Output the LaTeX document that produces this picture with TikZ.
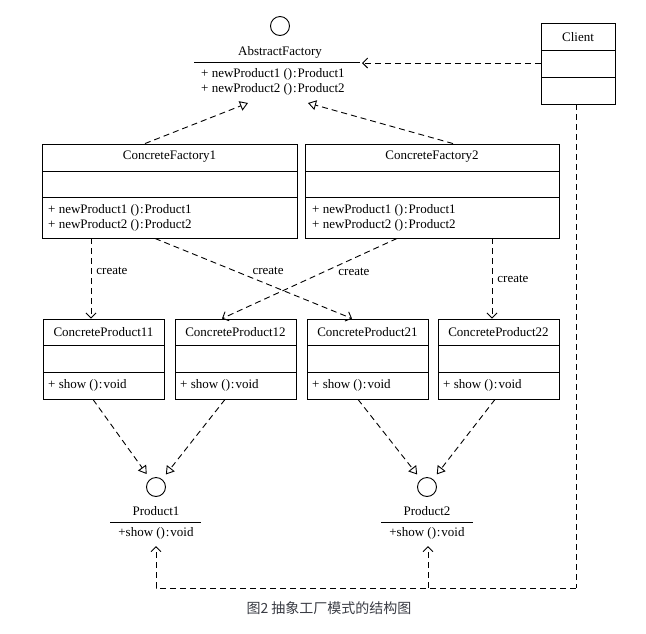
\documentclass[tikz,border=0pt]{standalone}
\usepackage{fontspec}
\setmainfont{Liberation Serif}
\newfontfamily\cjk{Noto Sans CJK SC}
\usetikzlibrary{arrows.meta}
\definecolor{capgray}{RGB}{58,60,68}
\newcommand{\ret}[1]{\kern0.8pt:\kern1pt#1}

\begin{document}
\begin{tikzpicture}[x=1pt,y=-1pt,
  every node/.style={inner sep=0pt,font=\fontsize{13}{15}\selectfont},
  cls/.style={draw,line width=0.9pt},
  iface/.style={draw,circle,minimum size=19pt,line width=0.9pt},
  dashline/.style={line width=0.9pt,dash pattern=on 6pt off 4pt},
  dep/.style={dashline,-{Straight Barb[length=5pt,width=10pt]}},
  real/.style={dashline,-{Triangle[open,length=8pt,width=10pt]}}]
  \useasboundingbox (0,0) rectangle (646,633);

  % AbstractFactory
  \node[iface] (af) at (280,26) {};
  \node (aftitle) at (280,52) {AbstractFactory};
  \draw[cls] (194,62) -- (360,62);
  \node[anchor=west] (afop1) at (201,74) {+ newProduct1 ()\ret{Product1}};
  \node[anchor=west] (afop2) at (201,89) {+ newProduct2 ()\ret{Product2}};

  % Client
  \node[cls,minimum width=74pt,minimum height=81pt] (client) at (578,63.5) {};
  \node (clienttitle) at (578,37) {Client};
  \draw[cls] (541,50) -- (615,50) (541,77) -- (615,77);

  % factories
  \node[cls,minimum width=255pt,minimum height=94pt] (cf1) at (169.5,191) {};
  \node (cf1title) at (169.5,157) {ConcreteFactory1};
  \draw[cls] (42,171) -- (297,171) (42,197) -- (297,197);
  \node[anchor=west] (cf1op1) at (48,210) {+ newProduct1 ()\ret{Product1}};
  \node[anchor=west] (cf1op2) at (48,225) {+ newProduct2 ()\ret{Product2}};

  \node[cls,minimum width=254pt,minimum height=94pt] (cf2) at (432,191) {};
  \node (cf2title) at (432,157) {ConcreteFactory2};
  \draw[cls] (305,171) -- (559,171) (305,197) -- (559,197);
  \node[anchor=west] (cf2op1) at (312,210) {+ newProduct1 ()\ret{Product1}};
  \node[anchor=west] (cf2op2) at (312,225) {+ newProduct2 ()\ret{Product2}};

  % products
  \node[cls,minimum width=121pt,minimum height=80pt] (cp11) at (103.5,359) {};
  \node (cp11title) at (103.5,332) {ConcreteProduct11};
  \draw[cls] (43,345) -- (164,345) (43,372) -- (164,372);
  \node[anchor=west] (cp11op) at (48,385) {+ show ()\ret{void}};

  \node[cls,minimum width=121pt,minimum height=80pt] (cp12) at (235.5,359) {};
  \node (cp12title) at (235.5,332) {ConcreteProduct12};
  \draw[cls] (175,345) -- (296,345) (175,372) -- (296,372);
  \node[anchor=west] (cp12op) at (180,385) {+ show ()\ret{void}};

  \node[cls,minimum width=121pt,minimum height=80pt] (cp21) at (367.5,359) {};
  \node (cp21title) at (367.5,332) {ConcreteProduct21};
  \draw[cls] (307,345) -- (428,345) (307,372) -- (428,372);
  \node[anchor=west] (cp21op) at (312,385) {+ show ()\ret{void}};

  \node[cls,minimum width=121pt,minimum height=80pt] (cp22) at (498.5,359) {};
  \node (cp22title) at (498.5,332) {ConcreteProduct22};
  \draw[cls] (438,345) -- (559,345) (438,372) -- (559,372);
  \node[anchor=west] (cp22op) at (443,385) {+ show ()\ret{void}};

  % Product1, Product2
  \node[iface] (p1) at (156,487) {};
  \node (p1title) at (156,511) {Product1};
  \draw[cls] (110,522) -- (201,522);
  \node (p1op) at (156,533) {+show ()\ret{void}};

  \node[iface] (p2) at (427,487) {};
  \node (p2title) at (427,511) {Product2};
  \draw[cls] (381,522) -- (473,522);
  \node (p2op) at (427,533) {+show ()\ret{void}};

  % connectors
  \coordinate (afin) at (362,63);
  \coordinate (afl) at (248,103);
  \coordinate (afr) at (308,103);
  \draw[dep] (client.west |- afin) -- (afin);
  \draw[real] (145,0 |- cf1.north) -- (afl);
  \draw[real] (453,0 |- cf2.north) -- (afr);

  \draw[dep] (91,0 |- cf1.south) -- node[right=5pt,pos=0.4] (create1) {create} (91,0 |- cp11.north);
  \draw[dep] (155,0 |- cf1.south) -- node[above=9pt,pos=0.574] (create2) {create} (352,0 |- cp21.north);
  \draw[dep] (397,0 |- cf2.south) -- node[below=10pt,pos=0.246] (create3) {create} (222,0 |- cp12.north);
  \draw[dep] (492,0 |- cf2.south) -- node[right=5pt,pos=0.51] (create4) {create} (492,0 |- cp22.north);

  \draw[real,shorten >=6pt] (93,0 |- cp11.south) -- (p1);
  \draw[real,shorten >=6pt] (225,0 |- cp12.south) -- (p1);
  \draw[real,shorten >=6pt] (358,0 |- cp21.south) -- (p2);
  \draw[real,shorten >=6pt] (495,0 |- cp22.south) -- (p2);

  \coordinate (bus) at (576,588);
  \coordinate (p1in) at (156,546);
  \coordinate (p2in) at (428,546);
  \draw[dashline] (576,0 |- client.south) -- (bus);
  \draw[dep] (bus) -- (p1in |- bus) -- (p1in);
  \draw[dep] (p2in |- bus) -- (p2in);

  % caption
  \node[font=\cjk\fontsize{14}{16}\selectfont,text=capgray] (caption) at (329,608) {图2 抽象工厂模式的结构图};
\end{tikzpicture}
\end{document}
